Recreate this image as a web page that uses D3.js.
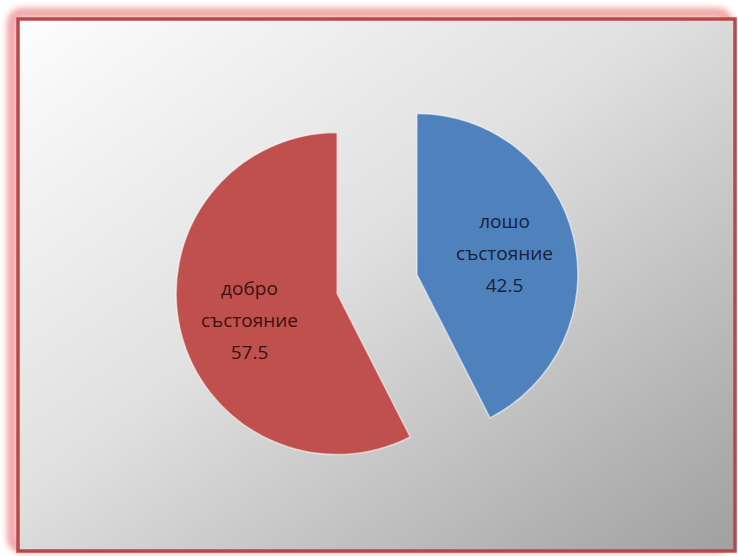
<!DOCTYPE html>
<meta charset="utf-8">
<script src="https://d3js.org/d3.v7.min.js"></script>
<style>
  body { margin: 0; background: #fff; }
</style>
<div id="chart"></div>
<script>
  // data
  const categories = ["лошо състояние", "добро състояние"];
  const values = [42.5, 57.5];
  const colors = ["#4f81bd", "#c0504d"];
  const labelColors = ["#16223a", "#3a1010"];

  const width = 738, height = 556;

  const svg = d3.select("#chart").append("svg")
    .attr("width", width)
    .attr("height", height);

  const defs = svg.append("defs");

  const bg = defs.append("linearGradient")
    .attr("id", "bg")
    .attr("x1", "0%").attr("y1", "0%")
    .attr("x2", "100%").attr("y2", "100%");
  bg.append("stop").attr("offset", "0%").attr("stop-color", "#fdfdfd");
  bg.append("stop").attr("offset", "45%").attr("stop-color", "#e0e0e0");
  bg.append("stop").attr("offset", "100%").attr("stop-color", "#a0a0a0");

  const glow = defs.append("filter").attr("id", "glow")
    .attr("x", "-5%").attr("y", "-5%").attr("width", "110%").attr("height", "110%");
  glow.append("feGaussianBlur").attr("stdDeviation", 3);

  // frame glow
  svg.append("rect")
    .attr("x", 12).attr("y", 13)
    .attr("width", 728 - 12).attr("height", 548 - 13)
    .attr("rx", 10)
    .attr("fill", "none")
    .attr("stroke", "#f08a8a")
    .attr("stroke-width", 10)
    .attr("opacity", 0.8)
    .attr("filter", "url(#glow)");

  // background
  svg.append("rect")
    .attr("x", 18).attr("y", 19)
    .attr("width", 735 - 18).attr("height", 551 - 19)
    .attr("fill", "url(#bg)")
    .attr("stroke", "#b9484a")
    .attr("stroke-width", 3.5);

  // pie
  const cx = 377, cy = 284, r = 161, explode = 41;

  const pie = d3.pie().sort(null).value(d => d)(values);
  const arc = d3.arc().innerRadius(0).outerRadius(r);
  const labelArc = d3.arc().innerRadius(r * 0.56).outerRadius(r * 0.56);

  const g = svg.append("g").attr("transform", `translate(${cx},${cy})`);

  const slices = g.selectAll("g.slice")
    .data(pie)
    .enter()
    .append("g")
    .attr("class", "slice")
    .attr("transform", d => {
      const a = (d.startAngle + d.endAngle) / 2;
      return `translate(${explode * Math.sin(a)},${-explode * Math.cos(a)})`;
    });

  slices.append("path")
    .attr("d", arc)
    .attr("fill", (d, i) => colors[i])
    .attr("stroke", "rgba(255,255,255,0.55)")
    .attr("stroke-width", 1.5);

  const lh = 32;
  slices.append("text")
    .attr("transform", (d, i) => {
      const c = labelArc.centroid(d);
      return `translate(${c[0]},${c[1] + (i === 1 ? 6 : 0)})`;
    })
    .attr("text-anchor", "middle")
    .attr("font-family", "Open Sans, sans-serif")
    .attr("font-size", 19)
    .attr("fill", (d, i) => labelColors[i])
    .each(function(d, i) {
      const lines = categories[i].split(" ").concat([String(values[i])]);
      const t = d3.select(this);
      lines.forEach((s, k) => {
        t.append("tspan")
          .attr("x", 0)
          .attr("y", (k - 1) * lh)
          .attr("dy", "0.35em")
          .text(s);
      });
    });
</script>
